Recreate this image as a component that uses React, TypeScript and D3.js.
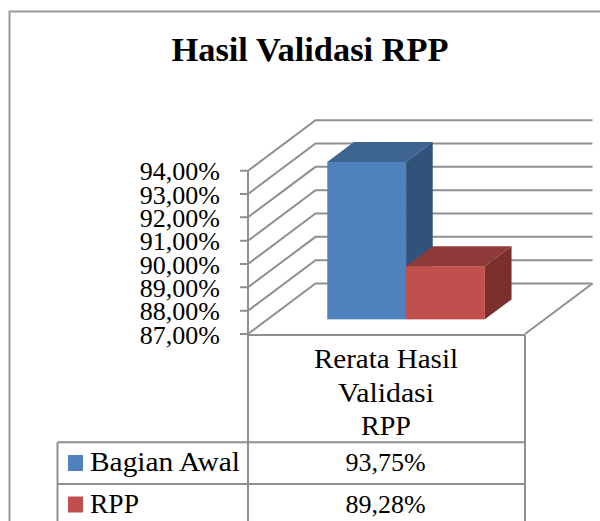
import React from "react";
import * as d3 from "d3";

const title = "Hasil Validasi RPP";
const series = ["Bagian Awal", "RPP"];
const values = [93.75, 89.28];
const valueLabels = ["93,75%", "89,28%"];
const ticks = [87, 88, 89, 90, 91, 92, 93, 94];
const categoryLines = ["Rerata Hasil", "Validasi", "RPP"];
const front = ["#4f81bd", "#c0504d"];
const topFace = ["#3e6491", "#8e3a38"];
const sideFace = ["#31537b", "#7a2f2d"];

const categoryWidths = [144, 96, 50];
const categoryBaselines = [368, 402, 435];
const legendWidths = [150, 49];
const rowBaselines = [470.7, 512.7];
const keyTops = [455, 496.5];

const FONT = "'Liberation Serif', serif";
const GRID = "#8f8f8f";
const W = 600, H = 521;

const y = d3.scaleLinear().domain([87, 94]).range([334, 170.7]);
const x = d3.scaleLinear().domain([0, 1]).range([248, 525]);
// depth axis: 0 = front of floor, 1 = back wall
const dx = d3.scaleLinear().domain([0, 1]).range([0, 67.5]);
const dy = d3.scaleLinear().domain([0, 1]).range([0, -50.5]);
const band = d3.scaleBand<string>().domain(series).range([x(0.2155), x(0.7845)]);
const depthFront = 0.29, depthBack = 0.685;

const pts = (p: [number, number][]) => p.map((d) => d.join(",")).join(" ");

export default function App() {
  const line = d3.line();
  const backL = x(0) + dx(1), backR = x(1) + dx(1);
  const bars = series.map((s, i) => {
    const x0 = band(s)! + dx(depthFront), x1 = x0 + band.bandwidth();
    const yb = y(87) + dy(depthFront), yt = y(values[i]) + dy(depthFront);
    const ox = dx(depthBack) - dx(depthFront), oy = dy(depthBack) - dy(depthFront);
    return { x0, x1, yb, yt, ox, oy, i };
  });
  const rowY = [335, 442.3, 484, 521];
  return (
    <svg width={W} height={H} style={{ position: "fixed", left: 0, top: 0, background: "#fff" }} fontFamily={FONT}>
      <path d={line([[9.5, H], [9.5, 11.5], [W, 11.5]])!} fill="none" stroke="#9a9a9a" strokeWidth={2} />
      <text x={310} y={61} textAnchor="middle" fontSize={33} fontWeight={700} textLength={277} lengthAdjust="spacingAndGlyphs" fill="#000">{title}</text>

      {ticks.map((t) => (
        <g key={t}>
          <path d={line([[240, y(t)], [x(0), y(t)], [backL, y(t) + dy(1)], [backR, y(t) + dy(1)]])!} fill="none" stroke={GRID} strokeWidth={2} />
          <text x={220} y={y(t) + 9.5} textAnchor="end" fontSize={26} fill="#000">{t},00%</text>
        </g>
      ))}
      <path d={line([[x(0), y(94)], [x(0), y(87)]])!} stroke={GRID} strokeWidth={2} />
      <path d={line([[x(1), y(87)], [backR, y(87) + dy(1)]])!} stroke={GRID} strokeWidth={2} />

      {bars.map((b) => (
        <g key={b.i}>
          <polygon points={pts([[b.x0, b.yt], [b.x0 + b.ox, b.yt + b.oy], [b.x1 + b.ox, b.yt + b.oy], [b.x1, b.yt]])} fill={topFace[b.i]} />
          <polygon points={pts([[b.x1, b.yt], [b.x1 + b.ox, b.yt + b.oy], [b.x1 + b.ox, b.yb + b.oy], [b.x1, b.yb]])} fill={sideFace[b.i]} />
          <rect x={b.x0} y={b.yt} width={b.x1 - b.x0} height={b.yb - b.yt} fill={front[b.i]} />
        </g>
      ))}

      <g fill="none" stroke={GRID} strokeWidth={2}>
        <path d={line([[x(0), rowY[0]], [x(1), rowY[0]]])!} />
        <path d={line([[x(0), rowY[0]], [x(0), H]])!} />
        <path d={line([[x(1), rowY[0]], [x(1), H]])!} />
        <path d={line([[57.5, rowY[1]], [x(1), rowY[1]]])!} />
        <path d={line([[57.5, rowY[2]], [x(1), rowY[2]]])!} />
        <path d={line([[57.5, rowY[1]], [57.5, H]])!} />
      </g>

      {categoryLines.map((c, i) => (
        <text key={c} x={386} y={categoryBaselines[i]} textAnchor="middle" fontSize={27} textLength={categoryWidths[i]} lengthAdjust="spacingAndGlyphs" fill="#000">{c}</text>
      ))}
      {series.map((s, i) => (
        <g key={s}>
          <rect x={68} y={keyTops[i]} width={15} height={16} fill={front[i]} />
          <text x={90} y={rowBaselines[i]} fontSize={27} textLength={legendWidths[i]} lengthAdjust="spacingAndGlyphs" fill="#000">{s}</text>
          <text x={385.5} y={rowBaselines[i]} textAnchor="middle" fontSize={26} fill="#000">{valueLabels[i]}</text>
        </g>
      ))}
    </svg>
  );
}
